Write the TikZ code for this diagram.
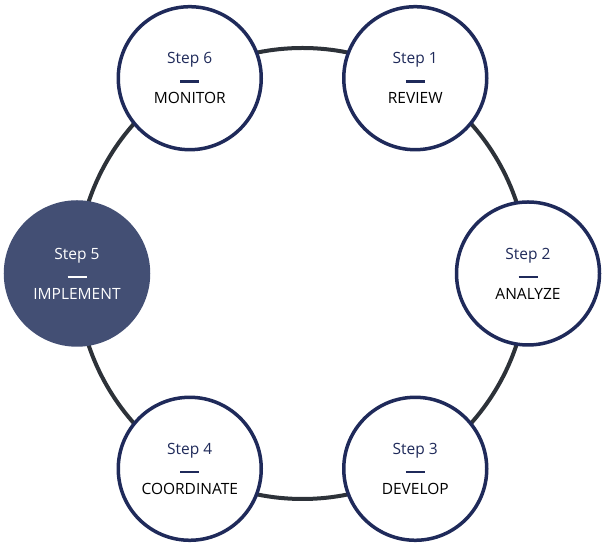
\documentclass[tikz,border=0pt]{standalone}
\usepackage{fontspec}
\setmainfont{Open Sans}
\usepackage{tikz}
\usetikzlibrary{positioning, calc}
\definecolor{navy}{HTML}{1F2A5A}
\definecolor{slate}{HTML}{434F74}
\definecolor{ring}{HTML}{2D3239}

\begin{document}
\begin{tikzpicture}[x=1pt, y=1pt,
    stage/.style={circle, draw=navy, line width=3.5pt, fill=white, minimum size=143pt, inner sep=0pt,
        align=center, font=\fontsize{15.5}{21}\selectfont},
    active/.style={stage, draw=slate, fill=slate, text=white}]
    \useasboundingbox (0,0) rectangle (605,545);
    \coordinate (c) at (302.5,271.5);
    % outer ring
    \draw[ring, line width=4pt] (c) circle (225.5);

    % stages around the ring
    \node[stage] (s1) at ($(c)+(60:225.5)$) {{\color{navy}Step 1}\\[-2pt]{\color{navy}\rule{19pt}{2.5pt}}\\[0pt]REVIEW};
    \node[stage] (s2) at ($(c)+(0:225.5)$) {{\color{navy}Step 2}\\[-2pt]{\color{navy}\rule{19pt}{2.5pt}}\\[0pt]ANALYZE};
    \node[stage] (s3) at ($(c)+(-60:225.5)$) {{\color{navy}Step 3}\\[-2pt]{\color{navy}\rule{19pt}{2.5pt}}\\[0pt]DEVELOP};
    \node[stage] (s4) at ($(c)+(-120:225.5)$) {{\color{navy}Step 4}\\[-2pt]{\color{navy}\rule{19pt}{2.5pt}}\\[0pt]COORDINATE};
    \node[active] (s5) at ($(c)+(180:225.5)$) {Step 5\\[-2pt]\rule{19pt}{2.5pt}\\[0pt]IMPLEMENT};
    \node[stage] (s6) at ($(c)+(120:225.5)$) {{\color{navy}Step 6}\\[-2pt]{\color{navy}\rule{19pt}{2.5pt}}\\[0pt]MONITOR};
\end{tikzpicture}
\end{document}
